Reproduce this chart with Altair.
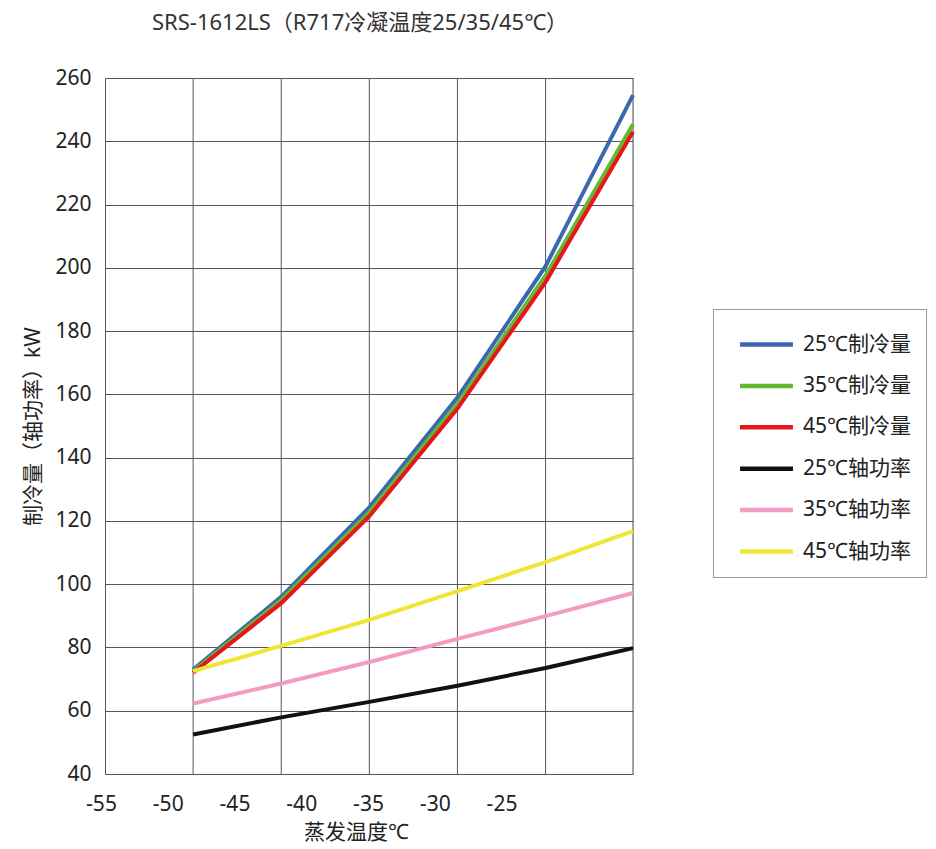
import altair as alt
import pandas as pd

FONT = "Noto Sans, Noto Sans CJK SC, sans-serif"

# x positions of the data points (as read against the printed axis labels)
evap_temp = [-48.4, -41.8, -35.2, -28.6, -22.0, -15.45]
x_tick_labels = [-55, -50, -45, -40, -35, -30, -25]
y_ticks = [40, 60, 80, 100, 120, 140, 160, 180, 200, 220, 240, 260]

series_names = ["25℃制冷量", "35℃制冷量", "45℃制冷量",
                "25℃轴功率", "35℃轴功率", "45℃轴功率"]
cap_25 = [73.0, 96.0, 124.3, 159.0, 200.5, 254.6]
cap_35 = [72.5, 95.0, 122.8, 157.0, 197.5, 245.4]
cap_45 = [72.0, 94.0, 121.5, 155.5, 195.5, 243.0]
pow_25 = [52.5, 57.9, 62.8, 67.9, 73.5, 79.8]
pow_35 = [62.3, 68.6, 75.4, 82.7, 89.9, 97.2]
pow_45 = [72.5, 80.5, 88.7, 97.8, 107.0, 116.8]
series_colors = ["#3c68b2", "#62b92e", "#e8161c", "#111111", "#f29cc4", "#eee636"]

all_values = [cap_25, cap_35, cap_45, pow_25, pow_35, pow_45]
rows = []
for order, (name, vals) in enumerate(zip(series_names, all_values)):
    for x, v in zip(evap_temp, vals):
        rows.append({"温度": x, "值": v, "系列": name, "order": order})
df = pd.DataFrame(rows)
grid_df = pd.DataFrame({"温度": evap_temp})

GRID = "#555555"

xscale = alt.Scale(domain=[-55, -15.45], nice=False, zero=False)
yscale = alt.Scale(domain=[40, 260], nice=False, zero=False)

vgrid = alt.Chart(grid_df).mark_rule(color=GRID, strokeWidth=1).encode(
    x=alt.X("温度:Q", scale=xscale)
)

lines = alt.Chart(df).mark_line(strokeWidth=4, interpolate="linear").encode(
    x=alt.X("温度:Q", scale=xscale,
            axis=alt.Axis(values=x_tick_labels, grid=False, ticks=False, domain=False,
                          title="蒸发温度℃", labelOffset=-4, labelPadding=19,
                          labelExpr="'' + datum.value",
                          titlePadding=7, labelFontSize=21, titleFontSize=21,
                          labelColor="#222", titleColor="#222", titleFontWeight="normal",
                          labelFont=FONT, titleFont=FONT, titleX=251, labelFlush=False)),
    y=alt.Y("值:Q", scale=yscale,
            axis=alt.Axis(values=y_ticks, grid=True, gridColor=GRID, gridWidth=1,
                          ticks=False, domain=True, domainColor=GRID,
                          title="制冷量（轴功率）kW", labelPadding=14,
                          labelFontSize=21, titleFontSize=21, labelColor="#222",
                          titleColor="#222", titleFontWeight="normal",
                          labelFont=FONT, titleFont=FONT, titleX=-72,
                          titleBaseline="middle")),
    color=alt.Color("系列:N",
                    scale=alt.Scale(domain=series_names, range=series_colors),
                    sort=series_names,
                    legend=alt.Legend(orient="none", legendX=608, legendY=231,
                                      title=None, padding=15, strokeColor="#999999",
                                      fillColor="white", cornerRadius=0,
                                      symbolType="M-1.45,0H1.45", symbolSize=1332,
                                      symbolStrokeWidth=4.5, symbolOffset=18,
                                      labelOffset=16, labelFontSize=21,
                                      labelFont=FONT, labelColor="#222",
                                      rowPadding=10.4, labelLimit=300)),
    order=alt.Order("order:Q"),
    detail="系列:N",
)

chart = (vgrid + lines).properties(
    width=528,
    height=696,
    autosize=alt.AutoSizeParams(type="none"),
    padding={"left": 97, "top": 70, "right": 295, "bottom": 71},
    title=alt.TitleParams(text="SRS-1612LS（R717冷凝温度25/35/45℃）", fontSize=22,
                          fontWeight="normal", color="#333", font=FONT,
                          anchor="middle", dx=-9, offset=32),
).configure_view(stroke=GRID, strokeWidth=1).configure(background="white")

chart.save("out.html", embed_options={"renderer": "svg", "actions": False})
